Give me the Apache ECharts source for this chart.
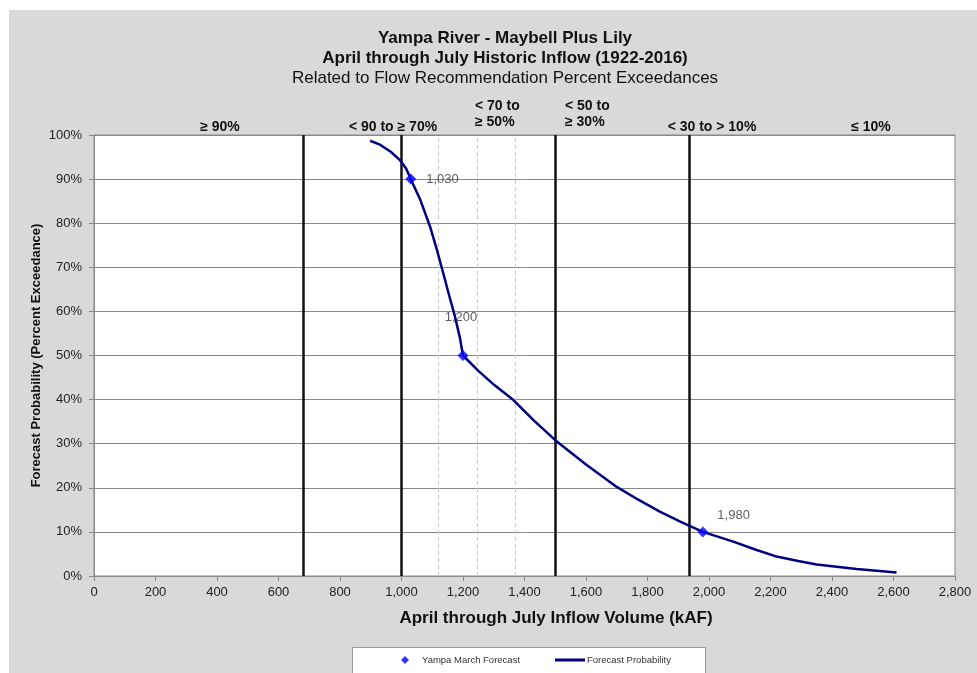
<!DOCTYPE html>
<html>
<head>
<meta charset="utf-8">
<title>Yampa River - Maybell Plus Lily</title>
<script src="https://cdn.jsdelivr.net/npm/echarts@6/dist/echarts.min.js"></script>
<style>
  html, body { margin: 0; padding: 0; background: #fff; }
  #chart { width: 977px; height: 673px; }
</style>
</head>
<body>
<div id="chart"></div>
<script>
// forecast probability curve: April-July inflow volume (kAF) vs percent exceedance
const curveVolume = [898, 930, 965, 995, 1015, 1030, 1060, 1093, 1115, 1136, 1155, 1174, 1190, 1200,
  1250, 1300, 1364, 1430, 1500, 1600, 1700, 1770, 1840, 1910, 1980, 2079, 2150, 2220, 2290, 2350, 2480, 2610];
const curvePercent = [98.7, 97.8, 96.2, 94.3, 92.4, 90, 85.5, 79.2, 74, 68.6, 63.6, 58.8, 54, 50,
  46.5, 43.4, 39.9, 35.3, 30.8, 25.3, 20.2, 17.3, 14.6, 12.2, 10, 7.8, 6, 4.4, 3.4, 2.6, 1.6, 0.8];

// Yampa March forecast points
const forecastVolume = [1030, 1200, 1980];
const forecastPercent = [90, 50, 10];

// recommendation boundaries (solid) and sub-divisions (dashed)
const zoneLines = [680, 1000, 1500, 1935];
const subLines = [1120, 1245, 1370];

// labels above the plot
const bandLabels = ['≥ 90%', '< 90 to ≥ 70%', '< 70 to\n≥ 50%', '< 50 to\n≥ 30%', '< 30 to > 10%', '≤ 10%'];

const font = 'Liberation Sans, Arial, sans-serif';
const chart = echarts.init(document.getElementById('chart'));

// pixel spots for the band labels
const bandPos = [
  { x: 220, y: 127, align: 'center' },
  { x: 393, y: 127, align: 'center' },
  { x: 475, y: 114, align: 'left' },
  { x: 565, y: 114, align: 'left' },
  { x: 712, y: 127, align: 'center' },
  { x: 871, y: 127, align: 'center' }
];

const graphics = [
  {
    type: 'rect', left: 9, top: 10, z: -10, silent: true,
    shape: { width: 968, height: 663 },
    style: { fill: '#d9d9d9' }
  },
  {
    // legend box
    type: 'rect', left: 352, top: 647, z: 0, silent: true,
    shape: { width: 353, height: 40 },
    style: { fill: '#fff', stroke: '#999', lineWidth: 1 }
  },
  {
    // x axis title
    type: 'text', x: 556, y: 618, silent: true,
    style: {
      text: 'April through July Inflow Volume (kAF)', align: 'center', verticalAlign: 'middle',
      font: 'bold 17px ' + font, fill: '#111'
    }
  }
];
bandLabels.forEach(function (t, i) {
  graphics.push({
    type: 'text', x: bandPos[i].x, y: bandPos[i].y, silent: true,
    style: {
      text: t, align: bandPos[i].align, verticalAlign: 'middle',
      font: 'bold 14px ' + font, fill: '#111', lineHeight: 16
    }
  });
});

const markData = zoneLines.map(function (v) {
  return { xAxis: v, lineStyle: { color: '#111', width: 2.5, type: 'solid' } };
}).concat(subLines.map(function (v) {
  return { xAxis: v, lineStyle: { color: '#c8c8c8', width: 1, type: [4, 3] } };
}));

const labelPos = [
  { position: 'right', distance: 10, offset: [0, 0] },
  { position: 'top', distance: 26, offset: [-2, 0] },
  { position: 'right', distance: 9, offset: [0, -16] }
];

const option = {
  backgroundColor: '#fff',
  textStyle: { fontFamily: font },
  animation: false,
  title: {
    left: 500, top: 23, textAlign: 'center',
    text: '{b|Yampa River - Maybell Plus Lily}\n{b|April through July Historic Inflow (1922-2016)}\n{n|Related to Flow Recommendation Percent Exceedances}',
    textStyle: {
      rich: {
        b: { fontSize: 17, fontWeight: 'bold', lineHeight: 20, color: '#111', fontFamily: font },
        n: { fontSize: 17, fontWeight: 'normal', lineHeight: 20, color: '#111', fontFamily: font }
      }
    }
  },
  graphic: graphics,
  legend: [
    {
      left: 401, top: 655, padding: 0, z: 5,
      itemWidth: 8, itemHeight: 8,
      textStyle: { fontSize: 9.5, color: '#333', padding: [0, 0, 0, 8] },
      data: [{ name: 'Yampa March Forecast', icon: 'diamond' }]
    },
    {
      left: 555, top: 655, padding: 0, z: 5,
      itemWidth: 30, itemHeight: 3,
      textStyle: { fontSize: 9.5, color: '#333', padding: [0, 0, 0, -3] },
      data: [{ name: 'Forecast Probability', icon: 'rect' }]
    }
  ],
  grid: {
    left: 94, right: 22, top: 135, bottom: 97,
    show: true, backgroundColor: '#fff', borderColor: '#888', borderWidth: 1
  },
  xAxis: {
    type: 'value', min: 0, max: 2800, interval: 200,
    axisLine: { show: true, lineStyle: { color: '#888' } },
    axisTick: { show: true, length: 5, lineStyle: { color: '#888' } },
    axisLabel: {
      fontSize: 13, color: '#222', margin: 10,
      formatter: function (v) { return v.toLocaleString('en-US'); }
    },
    splitLine: { show: false }
  },
  yAxis: {
    type: 'value', min: 0, max: 100, interval: 10,
    name: 'Forecast Probability (Percent Exceedance)',
    nameLocation: 'middle', nameGap: 51, nameMoveOverlap: false,
    nameTextStyle: { fontSize: 13, fontWeight: 'bold', color: '#111' },
    axisLine: { show: true, lineStyle: { color: '#888' } },
    axisTick: { show: true, length: 5, lineStyle: { color: '#888' } },
    axisLabel: { fontSize: 13, color: '#222', margin: 12, formatter: '{value}%' },
    splitLine: { show: true, lineStyle: { color: '#878787', width: 1 } }
  },
  series: [
    {
      // holds the vertical boundary lines, drawn under the curve
      name: 'zones',
      type: 'line',
      data: [],
      z: 1,
      markLine: {
        z: 1,
        silent: true, symbol: 'none', label: { show: false },
        data: markData
      }
    },
    {
      name: 'Forecast Probability',
      type: 'line',
      symbol: 'none',
      smooth: false,
      data: curveVolume.map(function (v, i) { return [v, curvePercent[i]]; }),
      lineStyle: { color: '#000080', width: 2.5 },
      itemStyle: { color: '#000080' },
      z: 3
    },
    {
      name: 'Yampa March Forecast',
      type: 'scatter',
      symbol: 'diamond',
      symbolSize: 11,
      itemStyle: { color: '#0000ff' },
      z: 5,
      data: forecastVolume.map(function (v, i) {
        return {
          value: [v, forecastPercent[i]],
          label: {
            show: true,
            position: labelPos[i].position,
            distance: labelPos[i].distance,
            offset: labelPos[i].offset,
            formatter: v.toLocaleString('en-US'),
            fontSize: 13, color: '#333'
          }
        };
      })
    }
  ]
};

chart.setOption(option);
</script>
</body>
</html>
